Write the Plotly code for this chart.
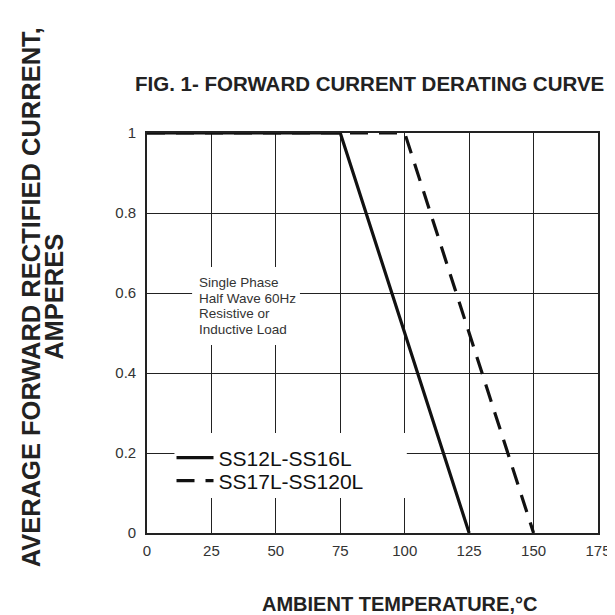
import plotly.graph_objects as go

# Data
series_names = ["SS12L-SS16L", "SS17L-SS120L"]
temp_a = [0, 75, 125]
curr_a = [1.0, 1.0, 0.0]
temp_b = [0, 100, 150]
curr_b = [1.0, 1.0, 0.0]
x_ticks = [0, 25, 50, 75, 100, 125, 150, 175]
y_ticks = [0, 0.2, 0.4, 0.6, 0.8, 1]
y_tick_labels = ["0", "0.2", "0.4", "0.6", "0.8", "1"]
note_lines = ["Single Phase", "Half Wave 60Hz", "Resistive or", "Inductive Load"]

W, H = 615, 615
L, R, T, B = 139, 16, 125, 90
pw, ph = W - L - R, H - T - B
FONT = "Liberation Sans, Arial, sans-serif"

def px_x(p):
    return (p - L) / pw

def px_y(p):
    return (H - B - p) / ph

fig = go.Figure()
fig.add_trace(go.Scatter(x=temp_a, y=curr_a, mode="lines", name=series_names[0],
                         line=dict(color="#111", width=3.2), legend="legend"))
fig.add_trace(go.Scatter(x=temp_b, y=curr_b, mode="lines", name=series_names[1],
                         line=dict(color="#111", width=3.2, dash="18px,11px"), legend="legend2"))

axis_common = dict(showgrid=True, gridcolor="#222", gridwidth=1.4, zeroline=False,
                   showline=True, linecolor="#222", linewidth=1.6, mirror=True,
                   ticks="", tickfont=dict(family=FONT, size=15, color="#333"))

fig.update_xaxes(range=[0, 175], tickvals=x_ticks, ticktext=[str(v) for v in x_ticks],
                 ticklabelstandoff=3, **axis_common)
fig.update_yaxes(range=[0, 1], tickvals=y_ticks, ticktext=y_tick_labels,
                 ticklabelstandoff=6, **axis_common)

# white masks behind the note and the legend (cover grid lines)
shapes = [
    dict(type="rect", xref="paper", yref="paper", layer="above",
         x0=px_x(185), x1=px_x(295), y0=px_y(337), y1=px_y(259),
         fillcolor="white", line=dict(width=0)),
    dict(type="rect", xref="paper", yref="paper", layer="above",
         x0=px_x(167), x1=px_x(404), y0=px_y(490), y1=px_y(425),
         fillcolor="white", line=dict(width=0)),
]

annotations = [
    dict(text="<b>FIG. 1- FORWARD CURRENT DERATING CURVE</b>", xref="paper", yref="paper",
         x=px_x(366), y=px_y(75), xanchor="center", yanchor="middle", showarrow=False,
         font=dict(family=FONT, size=20.5, color="#222")),
    dict(text="<b>AVERAGE FORWARD RECTIFIED CURRENT,</b>", xref="paper", yref="paper",
         x=px_x(21), y=px_y(289), xanchor="center", yanchor="middle", showarrow=False,
         textangle=-90, font=dict(family=FONT, size=25.5, color="#222")),
    dict(text="<b>AMPERES</b>", xref="paper", yref="paper",
         x=px_x(44), y=px_y(289), xanchor="center", yanchor="middle", showarrow=False,
         textangle=-90, font=dict(family=FONT, size=25.5, color="#222")),
    dict(text="<b>AMBIENT TEMPERATURE,°C</b>", xref="paper", yref="paper",
         x=px_x(397), y=px_y(596), xanchor="center", yanchor="middle", showarrow=False,
         font=dict(family=FONT, size=20, color="#222")),
]
note_y = [274.5, 290, 305.5, 321]
for line_txt, yy in zip(note_lines, note_y):
    annotations.append(dict(text=line_txt, xref="paper", yref="paper",
                            x=px_x(190), y=px_y(yy), xanchor="left", yanchor="middle",
                            showarrow=False, align="left",
                            font=dict(family=FONT, size=13.5, color="#333")))

legend_common = dict(xanchor="left", yanchor="middle", bgcolor="rgba(0,0,0,0)", borderwidth=0,
                     font=dict(family=FONT, size=21, color="#111"), itemwidth=37)

fig.update_layout(
    width=W, height=H,
    margin=dict(l=L, r=R, t=T, b=B),
    paper_bgcolor="white", plot_bgcolor="white",
    showlegend=True,
    legend=dict(x=px_x(164), y=px_y(450), **legend_common),
    legend2=dict(x=px_x(164), y=px_y(473), **legend_common),
    shapes=shapes,
    annotations=annotations,
)

fig.write_html("out.html")
